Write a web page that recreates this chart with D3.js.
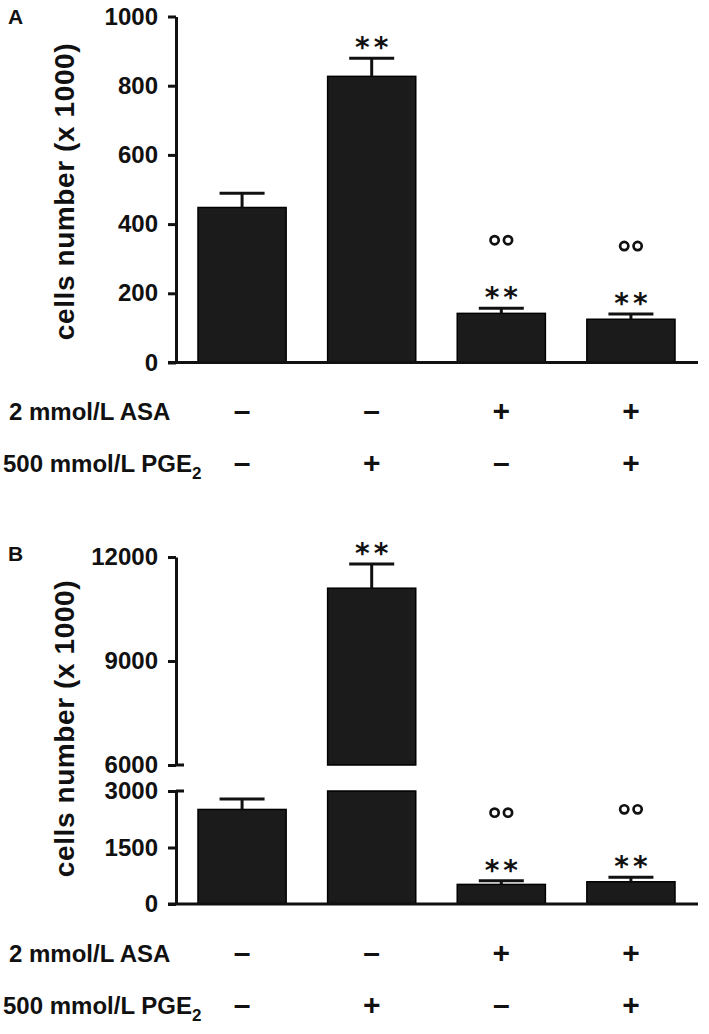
<!DOCTYPE html>
<html><head><meta charset="utf-8">
<script src="https://cdn.jsdelivr.net/npm/d3@7"></script>
<style>body{margin:0;background:#fff} svg{display:block} text{font-family:"Liberation Sans",Arial,Helvetica,sans-serif}</style>
</head><body><svg id="c" width="709" height="1034"></svg>
<script>
// ---- data ----
const categories = ["Control", "PGE2", "ASA", "ASA + PGE2"];
const asaRow = ["–", "–", "+", "+"];
const pgeRow = ["–", "+", "–", "+"];
const meansA = [448, 827, 142, 125];
const semA = [41, 52, 15, 15];
const meansB = [2510, 11100, 520, 590];
const semB = [280, 700, 100, 117];
const starsA = [false, true, true, true];
const circlesA = [false, false, true, true];
const starsB = [false, true, true, true];
const circlesB = [false, false, true, true];
const ticksA = [0, 200, 400, 600, 800, 1000];
const ticksBLow = [0, 1500, 3000];
const ticksBHigh = [6000, 9000, 12000];
const yLabel = "cells number (x 1000)";
const rowLabelASA = "2 mmol/L ASA";
const rowLabelPGE = "500 mmol/L PGE";
const rowLabelPGESub = "2";

// ---- layout ----
const svg = d3.select("#c");
const AX = 176;
const x = d3.scaleBand().domain(categories).range([AX + 1, 696]).paddingInner(0.32).paddingOuter(0.162);
const bw = x.bandwidth();
const cx = c => x(c) + bw / 2;
const capW = 45;
const ink = "#111";
const barFill = "#1b1b1b";

function styleAxis(g) {
  g.select(".domain").attr("stroke", ink).attr("stroke-width", 3);
  g.selectAll(".tick line").attr("stroke", ink).attr("stroke-width", 3);
  g.selectAll(".tick text").attr("fill", ink).style("font-size", "24px").style("font-weight", "bold");
}

function drawRows(axisY) {
  const g = svg.append("g");
  g.append("text").attr("x", 9).attr("y", axisY + 49 + 8.6)
    .style("font-size", "24px").style("font-weight", "bold").attr("fill", ink).text(rowLabelASA);
  const t = g.append("text").attr("x", 3).attr("y", axisY + 101 + 8.6)
    .style("font-size", "24px").style("font-weight", "bold").attr("fill", ink);
  t.append("tspan").text(rowLabelPGE);
  t.append("tspan").attr("dy", 7).style("font-size", "17px").text(rowLabelPGESub);
  [[asaRow, 49], [pgeRow, 101]].forEach(([row, off]) => {
    g.selectAll(null).data(categories).join("text")
      .attr("x", c => cx(c)).attr("y", axisY + off + 9.5)
      .attr("text-anchor", "middle").style("font-size", "30px").style("font-weight", "bold")
      .attr("fill", ink).text((c, i) => row[i]);
  });
}

function yLab(yMid) {
  svg.append("text").attr("transform", `translate(74,${yMid}) rotate(-90)`)
    .attr("text-anchor", "middle").style("font-size", "28px").style("font-weight", "bold")
    .style("letter-spacing", "0.6px").attr("fill", ink).text(yLabel);
}

function annotations(g, means, sems, stars, circles, yOf) {
  categories.forEach((c, i) => {
    const v = means[i], e = sems[i];
    const yt = yOf(v + e)(v + e);
    if (stars[i]) {
      g.append("text").attr("x", cx(c) + 2).attr("y", yt - 1).attr("text-anchor", "middle")
        .style("font-family", "'DejaVu Sans', sans-serif").style("font-weight", "bold")
        .style("font-size", "28px").style("letter-spacing", "4px").attr("fill", ink).text("**");
    }
    if (circles[i]) {
      [-6.7, 6.7].forEach(dx => g.append("circle").attr("cx", cx(c) + dx).attr("cy", yt - 68)
        .attr("r", 4.1).attr("fill", "none").attr("stroke", ink).attr("stroke-width", 2.7));
    }
  });
}

function errorBars(g, means, sems, yOf) {
  categories.forEach((c, i) => {
    const v = means[i], e = sems[i];
    const ys = yOf(v + e);
    g.append("line").attr("x1", cx(c)).attr("x2", cx(c)).attr("y1", ys(v)).attr("y2", ys(v + e))
      .attr("stroke", ink).attr("stroke-width", 3);
    g.append("line").attr("x1", cx(c) - capW / 2).attr("x2", cx(c) + capW / 2)
      .attr("y1", ys(v + e)).attr("y2", ys(v + e)).attr("stroke", ink).attr("stroke-width", 3);
  });
}

// ---- Panel A ----
{
  const yA = d3.scaleLinear().domain([0, 1000]).range([362.5, 16.5]);
  const g = svg.append("g");
  g.append("text").attr("x", 8).attr("y", 24).style("font-size", "21px").style("font-weight", "bold").attr("fill", ink).text("A");
  yLab((yA.range()[0] + yA.range()[1]) / 2 + 2);
  g.selectAll(null).data(categories).join("rect")
    .attr("x", c => x(c)).attr("width", bw)
    .attr("y", (c, i) => yA(meansA[i])).attr("height", (c, i) => yA(0) - yA(meansA[i]))
    .attr("fill", barFill).attr("stroke", "#000").attr("stroke-width", 1.5);
  errorBars(g, meansA, semA, () => yA);
  annotations(g, meansA, semA, starsA, circlesA, () => yA);
  const ax = g.append("g").attr("transform", `translate(${AX},0)`)
    .call(d3.axisLeft(yA).tickValues(ticksA).tickSize(8).tickSizeOuter(0).tickPadding(10).tickFormat(d3.format("d")));
  styleAxis(ax);
  g.append("line").attr("x1", AX - 8).attr("x2", x.range()[1] + 2).attr("y1", yA(0)).attr("y2", yA(0))
    .attr("stroke", ink).attr("stroke-width", 3);
  drawRows(yA(0));
}

// ---- Panel B (broken axis) ----
{
  const yL = d3.scaleLinear().domain([0, 3000]).range([904, 791]);
  const yH = d3.scaleLinear().domain([6000, 12000]).range([765, 557]);
  const lowMax = yL.domain()[1];
  const yOf = v => (v > lowMax ? yH : yL);
  const g = svg.append("g");
  g.append("text").attr("x", 8).attr("y", 561).style("font-size", "21px").style("font-weight", "bold").attr("fill", ink).text("B");
  yLab((yH.range()[1] + yL.range()[0]) / 2 - 2);
  categories.forEach((c, i) => {
    const v = meansB[i];
    const lowTop = Math.min(v, lowMax);
    g.append("rect").attr("x", x(c)).attr("width", bw).attr("y", yL(lowTop)).attr("height", yL(0) - yL(lowTop))
      .attr("fill", barFill).attr("stroke", "#000").attr("stroke-width", 1.5);
    if (v > lowMax) {
      const d0 = yH.domain()[0];
      g.append("rect").attr("x", x(c)).attr("width", bw).attr("y", yH(v)).attr("height", yH(d0) - yH(v))
        .attr("fill", barFill).attr("stroke", "#000").attr("stroke-width", 1.5);
    }
  });
  errorBars(g, meansB, semB, yOf);
  annotations(g, meansB, semB, starsB, circlesB, yOf);
  const fmt = d3.format("d");
  const a1 = g.append("g").attr("transform", `translate(${AX},0)`)
    .call(d3.axisLeft(yL).tickValues(ticksBLow).tickSize(8).tickSizeOuter(0).tickPadding(10).tickFormat(fmt));
  styleAxis(a1);
  const a2 = g.append("g").attr("transform", `translate(${AX},0)`)
    .call(d3.axisLeft(yH).tickValues(ticksBHigh).tickSize(8).tickSizeOuter(0).tickPadding(10).tickFormat(fmt));
  styleAxis(a2);
  // break caps
  [yL(lowMax), yH(yH.domain()[0])].forEach(yy => g.append("line").attr("x1", AX).attr("x2", AX + 8)
    .attr("y1", yy).attr("y2", yy).attr("stroke", ink).attr("stroke-width", 3));
  g.append("line").attr("x1", AX - 8).attr("x2", x.range()[1] + 2).attr("y1", yL(0)).attr("y2", yL(0))
    .attr("stroke", ink).attr("stroke-width", 3);
  drawRows(yL(0));
}
</script></body></html>
